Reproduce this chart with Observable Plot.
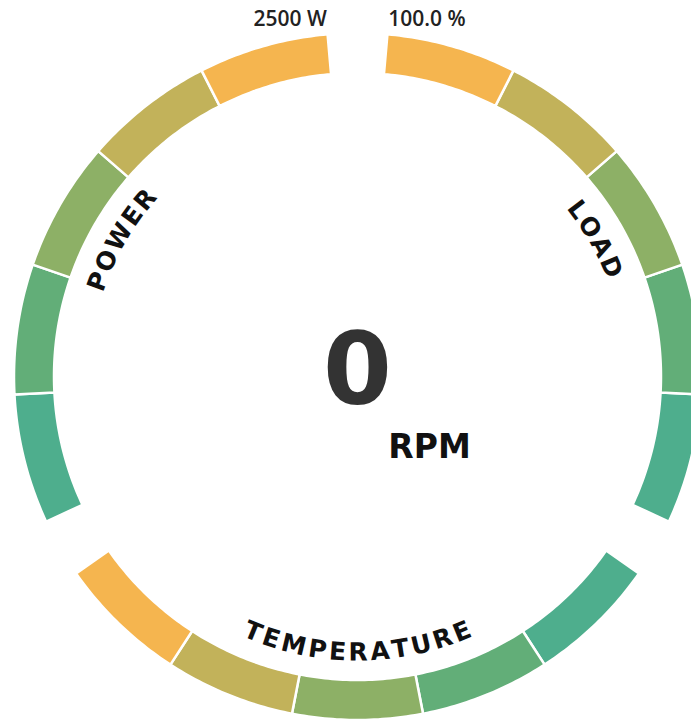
<!DOCTYPE html>
<html>
<head>
<meta charset="utf-8">
<script src="https://cdn.jsdelivr.net/npm/d3@7"></script>
<script src="https://cdn.jsdelivr.net/npm/@observablehq/plot@0.6"></script>
<style>
  html, body { margin: 0; padding: 0; background: #fff; overflow: hidden; }
</style>
</head>
<body>
<div id="chart"></div>
<script>
// ---- data ----
const gauges = ["POWER", "LOAD", "TEMPERATURE"];
const gaugeMaxLabels = ["2500 W", "100.0 %", ""];
const segmentColors = ["#4EAE8D", "#62AE78", "#8DB066", "#C2B25A", "#F5B54F"]; // min -> max
const rpmValue = "0";
const rpmUnit = "RPM";

// ---- layout ----
const W = 691, H = 719, cx = 357, cy = 376;
const rOuter = 343.5, rInner = 303.5, rText = 276, rLabel = 352;
const gaugeSpan = [[-115, -5], [115, 5], [125, 235]]; // [min angle, max angle], degrees clockwise from 12 o'clock
const labelFont = "DejaVu Sans";
const rad = Math.PI / 180;

// ring segments as closed polygons
const segPts = [];
gauges.forEach((g, gi) => {
  const [a0, a1] = gaugeSpan[gi];
  const n = segmentColors.length;
  for (let i = 0; i < n; i++) {
    const s0 = a0 + (a1 - a0) * i / n, s1 = a0 + (a1 - a0) * (i + 1) / n;
    const id = g + "-" + i, steps = 32;
    for (let k = 0; k <= steps; k++) {
      const a = (s0 + (s1 - s0) * k / steps) * rad;
      segPts.push({id, color: segmentColors[i], x: rOuter * Math.sin(a), y: rOuter * Math.cos(a)});
    }
    for (let k = steps; k >= 0; k--) {
      const a = (s0 + (s1 - s0) * k / steps) * rad;
      segPts.push({id, color: segmentColors[i], x: rInner * Math.sin(a), y: rInner * Math.cos(a)});
    }
  }
});

// curved letters
const canvas = document.createElement("canvas");
const ctx = canvas.getContext("2d");
const titleSize = 25, track = 2.5;
function letters(word, mid, dir) {
  ctx.font = `bold ${titleSize}px '${labelFont}'`;
  const chars = [...word];
  const widths = chars.map(c => ctx.measureText(c).width);
  const total = d3.sum(widths) + track * (chars.length - 1);
  let s = 0;
  return chars.map((c, i) => {
    const center = s + widths[i] / 2;
    s += widths[i] + track;
    const a = mid + dir * ((center - total / 2) / rText) / rad;
    return {c, x: rText * Math.sin(a * rad), y: rText * Math.cos(a * rad), rotate: dir > 0 ? a : a - 180};
  });
}
const letterData = gauges.flatMap((g, gi) => {
  const [a0, a1] = gaugeSpan[gi];
  const mid = (a0 + a1) / 2;
  const bottom = Math.cos(mid * rad) < 0 && Math.abs(Math.sin(mid * rad)) < 0.5;
  return letters(g, mid, bottom ? -1 : 1);
});

// end labels
const endLabels = gauges.map((g, gi) => {
  const a = gaugeSpan[gi][1] * rad;
  return {text: gaugeMaxLabels[gi], x: rLabel * Math.sin(a), y: rLabel * Math.cos(a), anchor: Math.sin(a) < 0 ? "end" : "start"};
}).filter(d => d.text);

const chart = Plot.plot({
  width: W,
  height: H,
  margin: 0,
  x: {domain: [-cx, W - cx], axis: null},
  y: {domain: [-(H - cy), cy], axis: null},
  color: {type: "identity"},
  marks: [
    Plot.line(segPts, {x: "x", y: "y", z: "id", fill: "color", stroke: "white", strokeWidth: 2.5, curve: "linear-closed"}),
    Plot.text(letterData, {x: "x", y: "y", text: "c", rotate: "rotate", fontSize: titleSize, fontWeight: "bold", fontFamily: labelFont, fill: "#111", lineAnchor: "middle", textAnchor: "middle"}),
    Plot.text(endLabels.filter(d => d.anchor === "end"), {x: "x", y: "y", text: "text", textAnchor: "end", lineAnchor: "bottom", fontSize: 21, fontWeight: 600, fontFamily: "Open Sans", fill: "#222", style: {letterSpacing: "0.5px"}}),
    Plot.text(endLabels.filter(d => d.anchor === "start"), {x: "x", y: "y", text: "text", textAnchor: "start", lineAnchor: "bottom", fontSize: 21, fontWeight: 600, fontFamily: "Open Sans", fill: "#222", style: {letterSpacing: "0.5px"}}),
    Plot.text([rpmValue], {x: 0, y: -27, text: d => d, textAnchor: "middle", lineAnchor: "bottom", fontSize: 99, fontWeight: "bold", fontFamily: labelFont, fill: "#333"}),
    Plot.text([rpmUnit], {x: 72, y: -81, text: d => d, textAnchor: "middle", lineAnchor: "bottom", fontSize: 33, fontWeight: "bold", fontFamily: labelFont, fill: "#111", style: {letterSpacing: "3.5px"}})
  ]
});
chart.style.background = "#fff";
document.getElementById("chart").appendChild(chart);
</script>
</body>
</html>
